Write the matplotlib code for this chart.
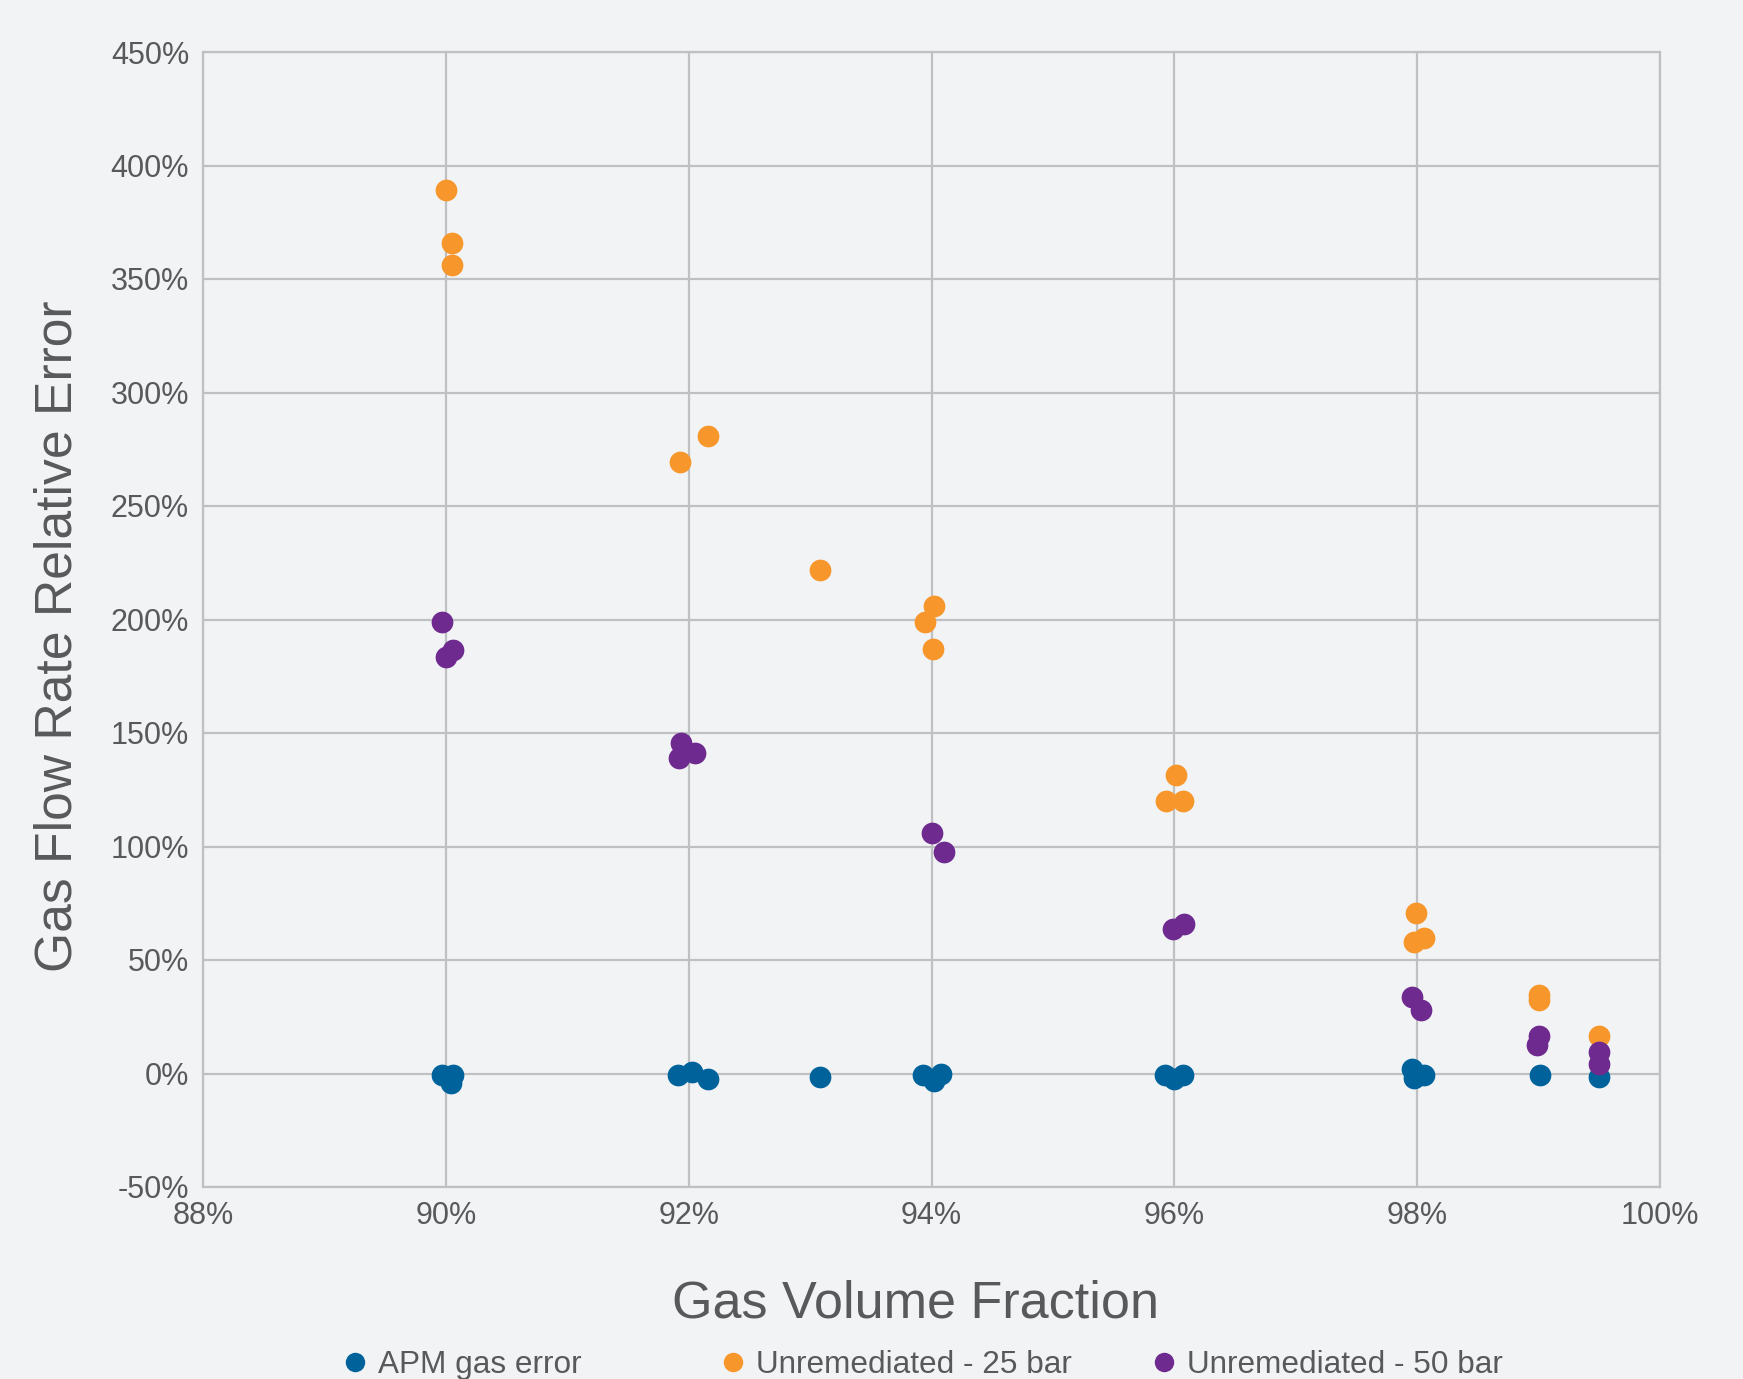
import matplotlib
matplotlib.use("Agg")
import matplotlib.pyplot as plt
from matplotlib.lines import Line2D

plt.rcParams['font.family'] = ['Liberation Sans', 'DejaVu Sans']

# ---- data (percent) ----
apm_x = [89.97, 90.06, 90.04, 91.91, 92.03, 92.16, 93.08, 93.93, 94.08, 94.02,
         95.92, 96.07, 96.00, 97.96, 97.97, 98.06, 99.01, 99.50]
apm_y = [-0.5, -0.5, -4.4, -0.5, 0.5, -2.4, -1.5, -0.5, 0.0, -3.4,
         -0.5, -0.5, -2.4, 2.0, -2.0, -0.5, -0.5, -1.5]

b25_x = [90.00, 90.05, 90.05, 91.93, 92.16, 93.08, 93.95, 94.02, 94.01,
         95.93, 96.01, 96.07, 97.99, 97.97, 98.06, 99.00, 99.00, 99.50]
b25_y = [389, 366, 356, 269.6, 281, 221.6, 199, 206, 187,
         120, 131.6, 120, 70.5, 58, 59.7, 34.7, 32.3, 16.6]

b50_x = [89.97, 90.00, 90.06, 91.94, 91.92, 92.05, 94.00, 94.10,
         95.99, 96.08, 97.96, 98.03, 99.00, 98.99, 99.50, 99.50]
b50_y = [199, 183.5, 186.4, 145.8, 139, 141, 106, 97.4,
         63.6, 66, 33.8, 27.9, 16.6, 12.7, 9.3, 4.4]

series_names = ["APM gas error", "Unremediated - 25 bar", "Unremediated - 50 bar"]
x_ticks = [88, 90, 92, 94, 96, 98, 100]
y_ticks = [-50, 0, 50, 100, 150, 200, 250, 300, 350, 400, 450]

# ---- style ----
BG = "#F2F3F5"
GRID = "#BFC0C2"
TXT = "#58595B"
C_BLUE = "#00629B"
C_ORANGE = "#F7962A"
C_PURPLE = "#6E2A8E"

fig = plt.figure(figsize=(17.43, 13.79), dpi=100, facecolor=BG)
ax = fig.add_axes([203/1743, 1 - 1187/1379, (1660-203)/1743, (1187-52)/1379])
ax.set_facecolor(BG)

S = 245
ax.scatter(apm_x, apm_y, s=S, color=C_BLUE, linewidths=0, zorder=3)
ax.scatter(b25_x, b25_y, s=S, color=C_ORANGE, linewidths=0, zorder=3)
ax.scatter(b50_x, b50_y, s=S, color=C_PURPLE, linewidths=0, zorder=3)

ax.set_xlim(88, 100)
ax.set_ylim(-50, 450)
ax.set_xticks(x_ticks)
ax.set_yticks(y_ticks)
ax.set_xticklabels([f"{t}%" for t in x_ticks])
ax.set_yticklabels([f"{t}%" for t in y_ticks])
ax.grid(True, color=GRID, linewidth=1.6, zorder=0)
ax.set_axisbelow(True)
for sp in ax.spines.values():
    sp.set_color(GRID)
    sp.set_linewidth(1.6)
ax.tick_params(axis='both', length=0, labelsize=22, labelcolor=TXT, pad=10)

fig.text(58/1743, 1 - 636/1379, "Gas Flow Rate Relative Error", rotation=90,
         ha='center', va='center', fontsize=37.2, color=TXT)
fig.text(916/1743, 1 - 1304/1379, "Gas Volume Fraction",
         ha='center', va='center', fontsize=37.5, color=TXT)

colors = [C_BLUE, C_ORANGE, C_PURPLE]
marker_x = [355, 733, 1164]
for name, col, mx in zip(series_names, colors, marker_x):
    h = Line2D([], [], marker='o', linestyle='none', markersize=14,
               markerfacecolor=col, markeredgewidth=0)
    leg = fig.legend([h], [name], loc='center left',
                     bbox_to_anchor=((mx - 9.5) / 1743, 1 - 1365/1379),
                     frameon=False, fontsize=22.7, handlelength=0.6,
                     handletextpad=0.42, borderpad=0, borderaxespad=0)
    for t in leg.get_texts():
        t.set_color(TXT)

fig.savefig("out.png", dpi=100, facecolor=BG)
